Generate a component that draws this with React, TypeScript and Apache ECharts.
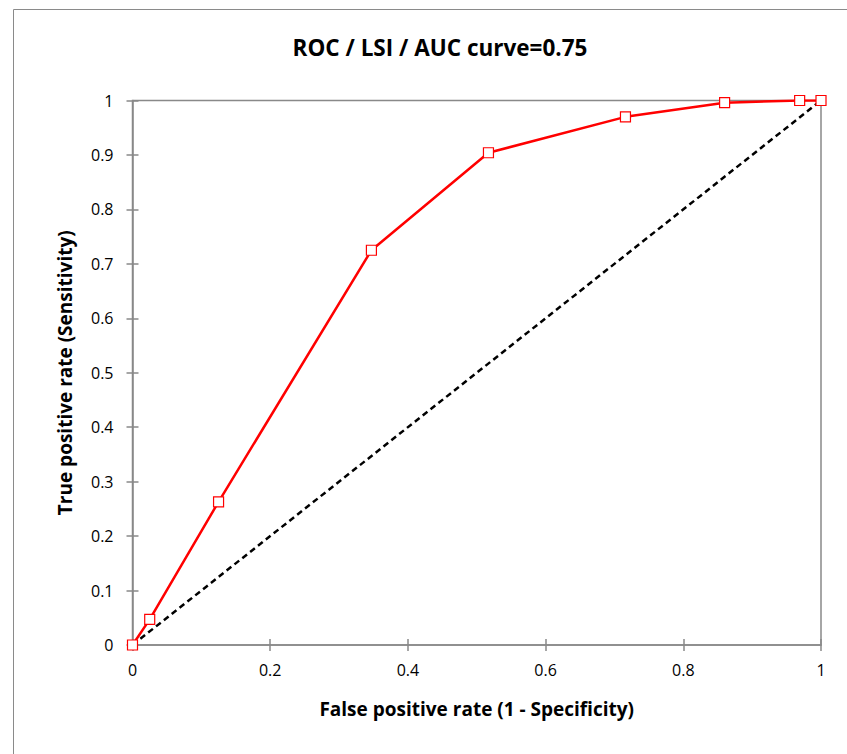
import React, { useEffect, useRef } from "react";
import * as echarts from "echarts";

const titleText = "ROC / LSI / AUC curve=0.75";
const xAxisName = "False positive rate (1 - Specificity)";
const yAxisName = "True positive rate (Sensitivity)";

const fpr = [0, 0.025, 0.125, 0.347, 0.517, 0.716, 0.86, 0.969, 1];
const tpr = [0, 0.047, 0.263, 0.725, 0.904, 0.97, 0.996, 1, 1];

const refX = [0, 1];
const refY = [0, 1];

const FONT = "Open Sans";

export default function App() {
  const ref = useRef<HTMLDivElement>(null);
  useEffect(() => {
    document.body.style.margin = "0";
    const chart = echarts.init(ref.current!, null, { renderer: "svg" });
    const axisColor = "#898989";
    const baseX = {
      type: "value",
      min: 0,
      max: 1,
      interval: 0.2,
      position: "bottom",
      splitLine: { show: false },
    };
    const baseY = {
      type: "value",
      min: 0,
      max: 1,
      interval: 0.1,
      position: "left",
      splitLine: { show: false },
    };
    chart.setOption({
      animation: false,
      backgroundColor: "#ffffff",
      title: {
        text: titleText,
        left: 435,
        top: 31,
        textAlign: "center",
        textStyle: { fontFamily: FONT, fontWeight: "bold", fontSize: 22.5, color: "#000" },
      },
      grid: {
        left: 132.5,
        top: 100.5,
        right: 26,
        bottom: 109,
        show: true,
        borderColor: axisColor,
        borderWidth: 1.5,
        backgroundColor: "transparent",
      },
      xAxis: [
        {
          ...baseX,
          name: xAxisName,
          nameLocation: "middle",
          nameGap: 54,
          nameTextStyle: { fontFamily: FONT, fontWeight: "bold", fontSize: 19, color: "#000" },
          axisLine: { show: true, lineStyle: { color: axisColor, width: 1.5 } },
          axisTick: { show: true, inside: false, length: 6, lineStyle: { color: axisColor, width: 1.5 } },
          axisLabel: { fontFamily: FONT, fontSize: 16, color: "#000", margin: 17 },
        },
        {
          ...baseX,
          axisLine: { show: false },
          axisTick: { show: true, inside: true, length: 6, lineStyle: { color: axisColor, width: 1.5 } },
          axisLabel: { show: false },
        },
      ],
      yAxis: [
        {
          ...baseY,
          name: yAxisName,
          nameLocation: "middle",
          nameGap: 58,
          nameTextStyle: { fontFamily: FONT, fontWeight: "bold", fontSize: 19, color: "#000" },
          axisLine: { show: true, lineStyle: { color: axisColor, width: 1.5 } },
          axisTick: { show: true, inside: false, length: 6, lineStyle: { color: axisColor, width: 1.5 } },
          axisLabel: { fontFamily: FONT, fontSize: 16, color: "#000", margin: 19 },
        },
        {
          ...baseY,
          axisLine: { show: false },
          axisTick: { show: true, inside: true, length: 6, lineStyle: { color: axisColor, width: 1.5 } },
          axisLabel: { show: false },
        },
      ],
      graphic: [
        {
          type: "rect",
          shape: { x: 13.5, y: 9.5, width: 1000, height: 1000 },
          style: { fill: "none", stroke: "#8a8a8a", lineWidth: 1 },
          silent: true,
          z: -10,
        },
      ],
      series: [
        {
          type: "line",
          data: refX.map((x, i) => [x, refY[i]]),
          showSymbol: false,
          symbol: "none",
          lineStyle: { color: "#000", width: 2.5, type: [6, 4] },
          z: 2,
        },
        {
          type: "line",
          data: fpr.map((x, i) => [x, tpr[i]]),
          symbol: "rect",
          symbolSize: 10,
          showAllSymbol: true,
          lineStyle: { color: "#ff0000", width: 2.5 },
          itemStyle: { color: "#ffffff", borderColor: "#ff0000", borderWidth: 1.2 },
          z: 3,
        },
      ],
    });
    return () => chart.dispose();
  }, []);
  return <div ref={ref} style={{ width: 847, height: 754 }} />;
}
